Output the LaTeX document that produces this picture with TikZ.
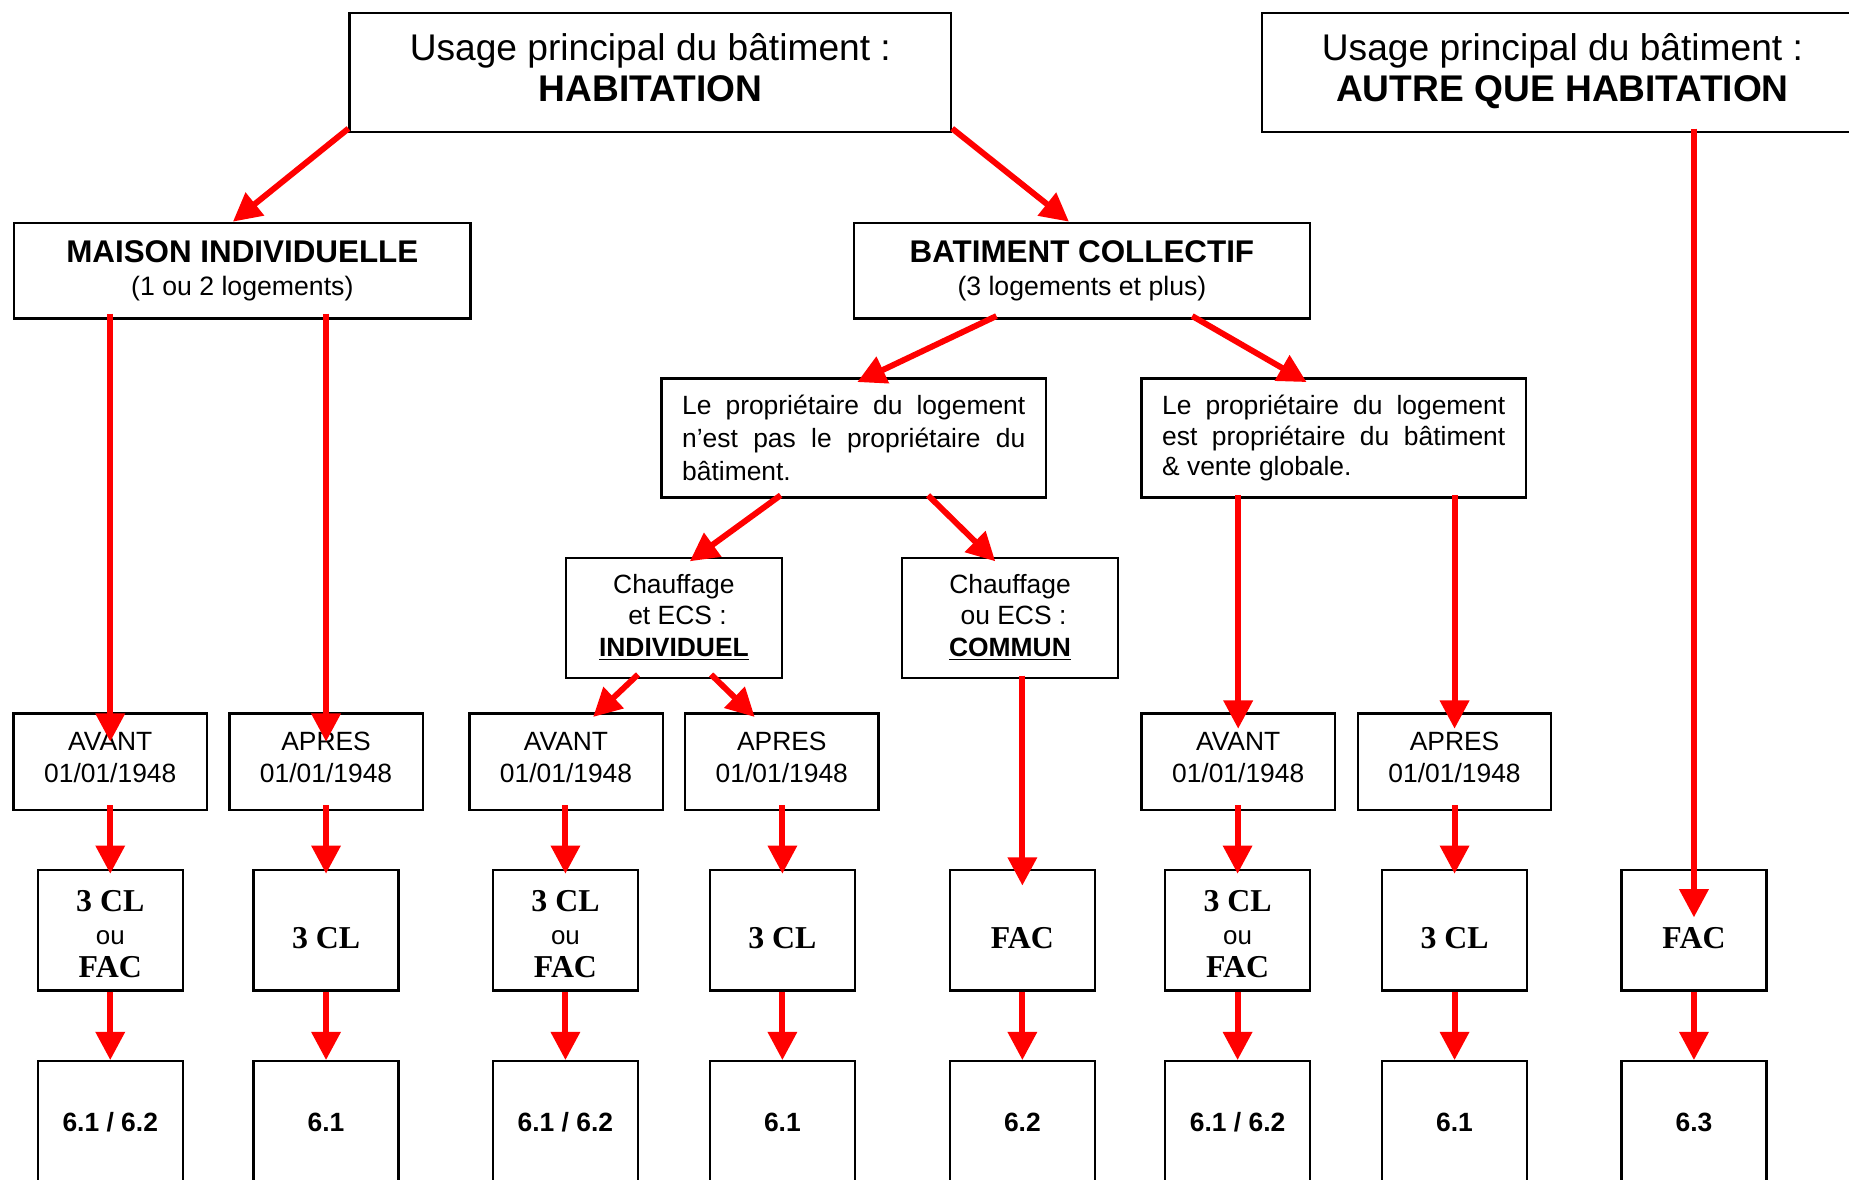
\documentclass[tikz,border=0pt]{standalone}
\usepackage{fontspec}
\setmainfont{Liberation Sans}
\newfontfamily\tnr{Liberation Serif}
\usetikzlibrary{arrows.meta,calc}
\newcommand{\ouline}{{\normalfont\fontsize{11}{14}\selectfont ou}}
\newcommand{\lowstrut}{\rule{0pt}{15.5pt}}
\begin{document}
\begin{tikzpicture}[x=0.5pt,y=-0.5pt,
  box/.style={draw=black,line width=1pt,rectangle,inner sep=0pt,align=center},
  top/.style={box,minimum width=255pt,minimum height=50.5pt,text depth=4.5pt,font=\fontsize{15.75}{17.5}\selectfont},
  mid/.style={box,minimum width=193.5pt,minimum height=40.5pt,font=\fontsize{13.3}{14}\selectfont},
  prop/.style={box,align=left,minimum width=163pt,minimum height=50.5pt},
  chauf/.style={box,minimum width=91.5pt,minimum height=51pt,font=\fontsize{11.2}{13.25}\selectfont},
  date/.style={box,minimum width=82pt,minimum height=41pt,text depth=4pt,font=\fontsize{11.2}{13.5}\selectfont},
  cl/.style={box,minimum width=61.5pt,minimum height=51pt,font=\tnr\bfseries\fontsize{13.5}{14}\selectfont},
  res/.style={box,minimum width=61.5pt,minimum height=52pt,font=\bfseries\fontsize{11.2}{13.5}\selectfont},
  arr/.style={draw=red,line width=2.5pt,-{Triangle[length=12pt,width=12pt]}}]
\useasboundingbox (0,0) rectangle (1568,1000);
\clip (0,0) rectangle (1568,1000);
% top
\node[top] (hab) at (551.5,61.5) {Usage principal du bâtiment :\\\textbf{HABITATION}};
\node[top] (autre) at (1325,61.5) {Usage principal du bâtiment :\\\textbf{AUTRE QUE HABITATION}};
% second level
\node[mid] (mi) at (205.5,229.5) {\textbf{MAISON INDIVIDUELLE}\\{\fontsize{11.3}{14}\selectfont (1 ou 2 logements)}};
\node[mid] (bc) at (917.5,229.5) {\textbf{BATIMENT COLLECTIF}\\{\fontsize{11.3}{14}\selectfont (3 logements et plus)}};
% proprietaire
\node[prop,font=\fontsize{11.2}{14}\selectfont] (p1) at (724,371.5) {\makebox[145.5pt][s]{Le propriétaire du logement}\\\makebox[145.5pt][s]{n’est pas le propriétaire du}\\bâtiment.};
\node[prop,font=\fontsize{11.2}{12.8}\selectfont] (p2) at (1131,371.5) {\makebox[145.5pt][s]{Le propriétaire du logement}\\\makebox[145.5pt][s]{est propriétaire du bâtiment}\\\& vente globale.};
% chauffage
\node[chauf] (ind) at (571.5,524) {Chauffage\\\hspace*{3pt}et ECS :\\\textbf{\underline{INDIVIDUEL}}};
\node[chauf] (com) at (856.5,524) {Chauffage\\\hspace*{3pt}ou ECS :\\\textbf{\underline{COMMUN}}};
% dates
\node[date] (mia) at (93.5,646) {AVANT\\01/01/1948};
\node[date] (mip) at (276.5,646) {APRES\\01/01/1948};
\node[date] (ia) at (480,646) {AVANT\\01/01/1948};
\node[date] (ip) at (663,646) {APRES\\01/01/1948};
\node[date] (ba) at (1050,646) {AVANT\\01/01/1948};
\node[date] (bp) at (1233.5,646) {APRES\\01/01/1948};
% CL / FAC
\node[cl] (c1) at (93.5,789) {\rule{0pt}{12pt}3 CL\\\ouline\\FAC};
\node[cl] (c2) at (276.5,789) {\lowstrut 3 CL};
\node[cl] (c3) at (479.5,789) {\rule{0pt}{12pt}3 CL\\\ouline\\FAC};
\node[cl] (c4) at (663.5,789) {\lowstrut 3 CL};
\node[cl] (c5) at (867,789) {\lowstrut FAC};
\node[cl] (c6) at (1049.5,789) {\rule{0pt}{12pt}3 CL\\\ouline\\FAC};
\node[cl] (c7) at (1233.5,789) {\lowstrut 3 CL};
\node[cl] (c8) at (1436.5,789) {\lowstrut FAC};
% results
\node[res] (r1) at (93.5,952) {6.1 / 6.2};
\node[res] (r2) at (276.5,952) {6.1};
\node[res] (r3) at (479.5,952) {6.1 / 6.2};
\node[res] (r4) at (663.5,952) {6.1};
\node[res] (r5) at (867,952) {6.2};
\node[res] (r6) at (1049.5,952) {6.1 / 6.2};
\node[res] (r7) at (1233.5,952) {6.1};
\node[res] (r8) at (1436.5,952) {6.3};
% arrows
\draw[arr] ($(hab.south west)+(0,-4)$) -- ($(mi.north)+(-8,0)$);
\draw[arr] ($(hab.south east)+(0,-4)$) -- ($(bc.north)+(-11,0)$);
\draw[arr] ($(mia.north |- mi.south)+(0,-5)$) -- ($(mia.north)+(0,25)$);
\draw[arr] ($(mip.north |- mi.south)+(0,-5)$) -- ($(mip.north)+(0,25)$);
\draw[arr] ($(bc.south)+(-72.5,-3)$) -- ($(p1.north)+(3,4)$);
\draw[arr] ($(bc.south)+(93.5,-3)$) -- ($(p2.north)+(-23,4)$);
\draw[arr] ($(p1.south)+(-62,-3)$) -- ($(ind.north)+(13.5,4)$);
\draw[arr] ($(p1.south)+(63,-3)$) -- ($(com.north)+(-12.5,4)$);
\draw[arr] ($(ind.south)+(-30.5,-4)$) -- ($(ia.north)+(23,4)$);
\draw[arr] ($(ind.south)+(31.5,-4)$) -- ($(ip.north)+(-23,4)$);
\draw[arr] ($(c5.north |- com.south)+(0,-3)$) -- ($(c5.north)+(0,14)$);
\draw[arr] ($(ba.north |- p2.south)+(0,-3)$) -- ($(ba.north)+(0,14)$);
\draw[arr] ($(bp.north |- p2.south)+(0,-3)$) -- ($(bp.north)+(0,14)$);
\draw[arr] ($(c8.north |- autre.south)+(0,-4)$) -- ($(c8.north)+(0,41)$);
\foreach \a/\b in {mia/c1,mip/c2,ia/c3,ip/c4,ba/c6,bp/c7}
  \draw[arr] ($(\b.north |- \a.south)+(0,-5)$) -- ($(\b.north)+(0,4)$);
\foreach \i in {1,...,8}
  \draw[arr] (c\i.south) -- (r\i.north);
\end{tikzpicture}
\end{document}
